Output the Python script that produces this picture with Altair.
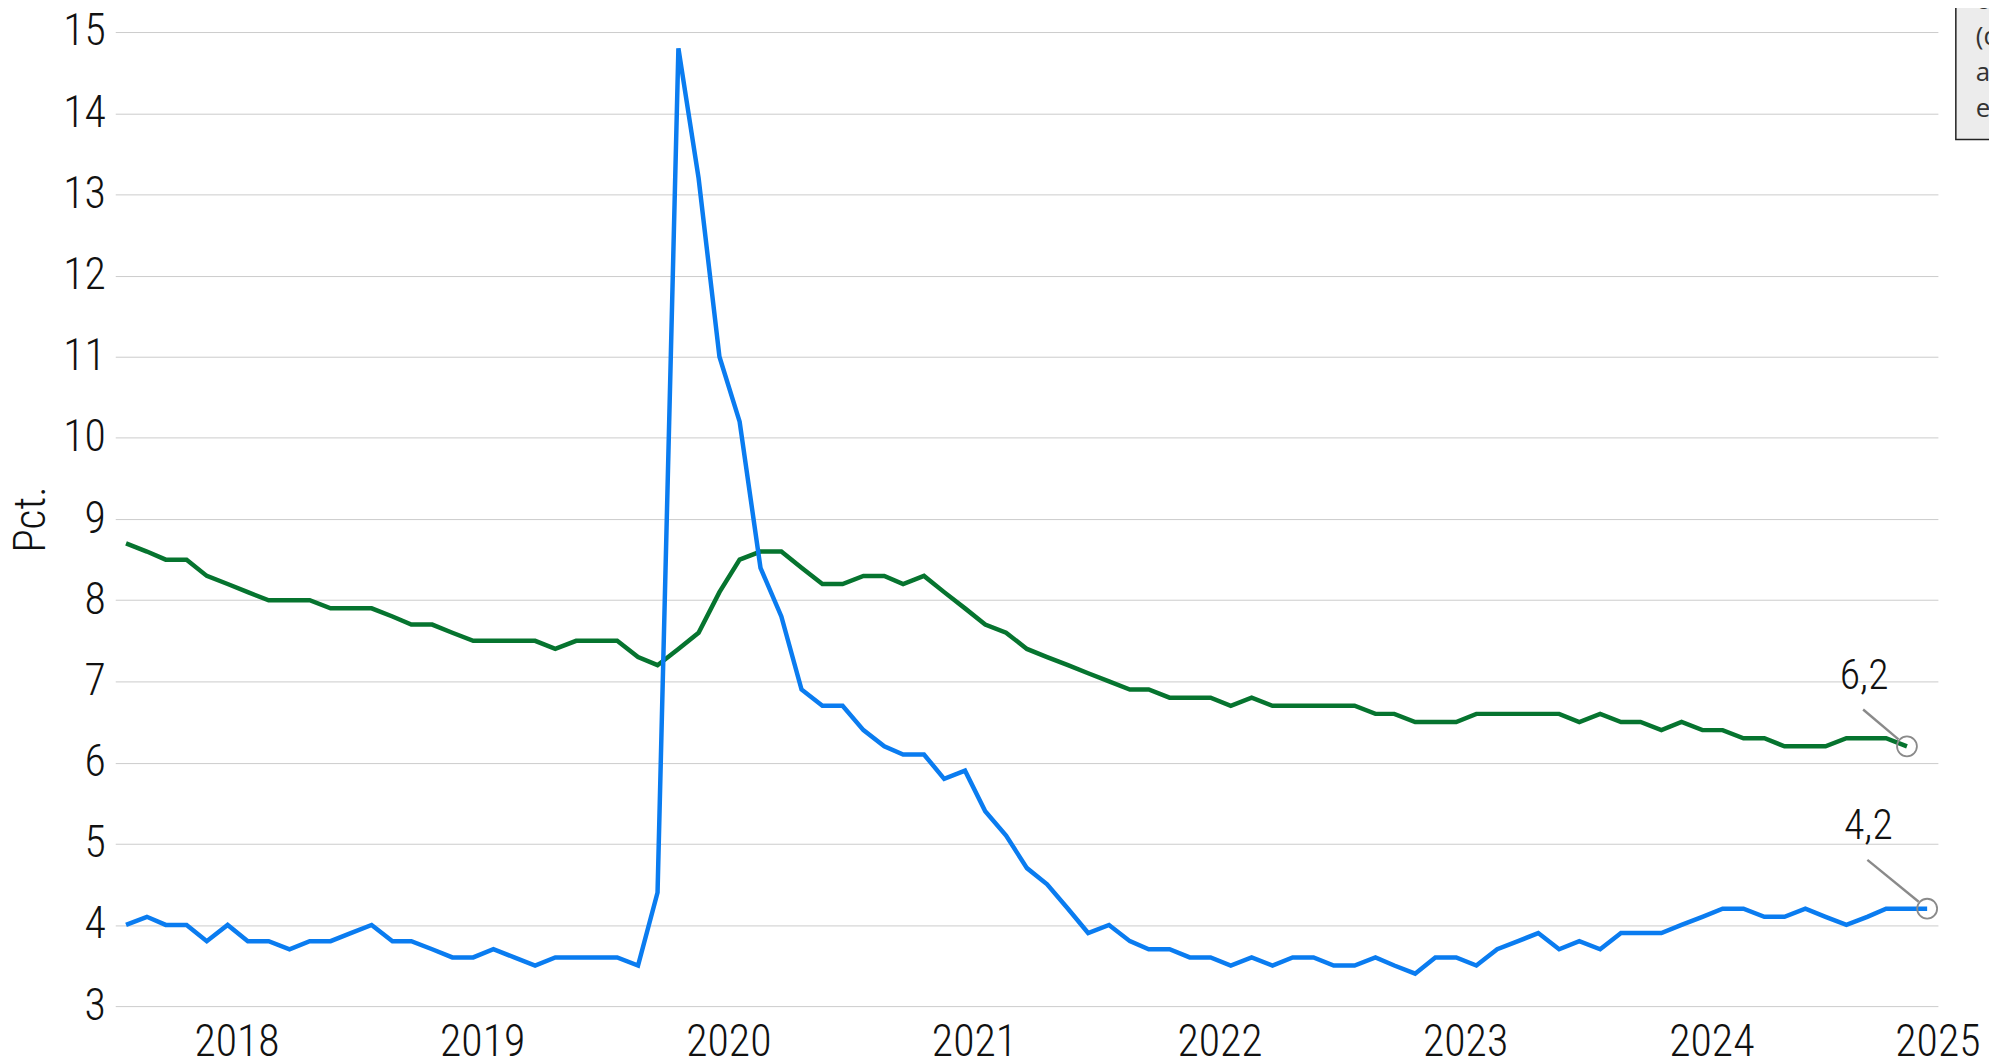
import altair as alt
import pandas as pd

# ---------------- data ----------------
months = pd.date_range("2018-01-01", periods=89, freq="MS")

usa = [
    4.0, 4.1, 4.0, 4.0, 3.8, 4.0, 3.8, 3.8, 3.7, 3.8, 3.8, 3.9,
    4.0, 3.8, 3.8, 3.7, 3.6, 3.6, 3.7, 3.6, 3.5, 3.6, 3.6, 3.6,
    3.6, 3.5, 4.4, 14.8, 13.2, 11.0, 10.2, 8.4, 7.8, 6.9, 6.7, 6.7,
    6.4, 6.2, 6.1, 6.1, 5.8, 5.9, 5.4, 5.1, 4.7, 4.5, 4.2, 3.9,
    4.0, 3.8, 3.7, 3.7, 3.6, 3.6, 3.5, 3.6, 3.5, 3.6, 3.6, 3.5,
    3.5, 3.6, 3.5, 3.4, 3.6, 3.6, 3.5, 3.7, 3.8, 3.9, 3.7, 3.8,
    3.7, 3.9, 3.9, 3.9, 4.0, 4.1, 4.2, 4.2, 4.1, 4.1, 4.2, 4.1,
    4.0, 4.1, 4.2, 4.2, 4.2,
]

euro = [
    8.7, 8.6, 8.5, 8.5, 8.3, 8.2, 8.1, 8.0, 8.0, 8.0, 7.9, 7.9,
    7.9, 7.8, 7.7, 7.7, 7.6, 7.5, 7.5, 7.5, 7.5, 7.4, 7.5, 7.5,
    7.5, 7.3, 7.2, 7.4, 7.6, 8.1, 8.5, 8.6, 8.6, 8.4, 8.2, 8.2,
    8.3, 8.3, 8.2, 8.3, 8.1, 7.9, 7.7, 7.6, 7.4, 7.3, 7.2, 7.1,
    7.0, 6.9, 6.9, 6.8, 6.8, 6.8, 6.7, 6.8, 6.7, 6.7, 6.7, 6.7,
    6.7, 6.6, 6.6, 6.5, 6.5, 6.5, 6.6, 6.6, 6.6, 6.6, 6.6, 6.5,
    6.6, 6.5, 6.5, 6.4, 6.5, 6.4, 6.4, 6.3, 6.3, 6.2, 6.2, 6.2,
    6.3, 6.3, 6.3, 6.2,
]

years = [2018, 2019, 2020, 2021, 2022, 2023, 2024, 2025]
y_ticks = list(range(3, 16))
title_text = "Euroområdet — USA"
box_lines = ["cirka", "(data", "af", "eurostat"]
y_title = "Pct."

BLUE = "#0a7cf0"
GREEN = "#06742f"
GRAY = "#8a8a8a"
FONT = "'Roboto Condensed Light', 'Roboto Condensed', Roboto, sans-serif"

W, H = 1830, 978
dom_start = pd.Timestamp("2017-12-16")
dom_end = pd.Timestamp("2025-05-17")

df_usa = pd.DataFrame({"date": months[: len(usa)], "value": usa})
df_euro = pd.DataFrame({"date": months[: len(euro)], "value": euro})

x_scale = alt.Scale(
    domain=[
        alt.DateTime(year=dom_start.year, month=dom_start.month, date=dom_start.day),
        alt.DateTime(year=dom_end.year, month=dom_end.month, date=dom_end.day),
    ]
)
y_scale = alt.Scale(domain=[3, 15], nice=False, zero=False)

x_enc = alt.X("date:T", scale=x_scale, axis=None)
y_enc = alt.Y(
    "value:Q",
    scale=y_scale,
    axis=alt.Axis(
        values=y_ticks,
        grid=True,
        gridColor="#cccccc",
        gridWidth=1,
        domain=False,
        ticks=False,
        labelFont=FONT,
        labelFontWeight=300,
        labelFontSize=44,
        labelColor="#111111",
        labelPadding=10,
        title=y_title,
        titleFont=FONT,
        titleFontWeight=300,
        titleFontSize=44,
        titleColor="#111111",
        titleAngle=270,
        titleAlign="center",
        titleBaseline="middle",
        titleX=-84,
        titleY=489,
    ),
)

line_euro = alt.Chart(df_euro).mark_line(color=GREEN, strokeWidth=4.5, strokeJoin="miter").encode(
    x=x_enc, y=y_enc
)
line_usa = alt.Chart(df_usa).mark_line(color=BLUE, strokeWidth=4.5, strokeJoin="miter").encode(
    x=x_enc, y=y_enc
)


def fmt(v):
    return f"{v:.1f}".replace(".", ",")


last_euro = df_euro.tail(1).assign(label=lambda d: d["value"].map(fmt))
last_usa = df_usa.tail(1).assign(label=lambda d: d["value"].map(fmt))


def annot(df, lx, ly, sx, sy):
    circ = alt.Chart(df).mark_point(
        shape="circle", filled=False, size=400, color=GRAY, strokeWidth=1.8, opacity=1
    ).encode(x=x_enc, y=y_enc)
    rule = alt.Chart(df).mark_rule(
        color=GRAY, strokeWidth=2.4, xOffset=sx, yOffset=sy, x2Offset=-8.5, y2Offset=-7
    ).encode(x=x_enc, y=y_enc, x2=alt.X2("date:T"), y2=alt.Y2("value:Q"))
    txt = alt.Chart(df).mark_text(
        font=FONT, fontWeight=300, fontSize=42, color="#111111",
        align="center", baseline="alphabetic", dx=lx, dy=ly,
    ).encode(x=x_enc, y=y_enc, text="label:N")
    return [rule, circ, txt]


# x year labels (last one kept inside the plot edge)
df_years = pd.DataFrame(
    {
        "date": [min(pd.Timestamp(f"{y}-06-15"), dom_end) for y in years],
        "label": [str(y) for y in years],
    }
)
year_text = alt.Chart(df_years).mark_text(
    font=FONT, fontWeight=300, fontSize=44, color="#111111",
    align="center", baseline="alphabetic",
).encode(x=x_enc, y=alt.value(1028), text="label:N")

# note box at top right (mostly outside the view)
df_box = pd.DataFrame({"k": [0]})
box = alt.Chart(df_box).mark_rect(
    fill="#ececec", stroke="#222222", strokeWidth=1.5
).encode(x=alt.value(1848), x2=alt.value(2100), y=alt.value(-60), y2=alt.value(108))

box_layers = []
for i, line in enumerate(box_lines):
    df_l = pd.DataFrame({"t": [line]})
    box_layers.append(
        alt.Chart(df_l).mark_text(
            font="'Open Sans', sans-serif", fontSize=26, color="#333333",
            align="left", baseline="alphabetic",
        ).encode(x=alt.value(1868), y=alt.value(-23 + 36 * i), text="t:N")
    )

df_title = pd.DataFrame({"t": [title_text]})
title_mark = alt.Chart(df_title).mark_text(
    font="'Open Sans', sans-serif", fontSize=40, color="#111111", align="center", baseline="alphabetic"
).encode(x=alt.value(765), y=alt.value(-26), text="t:N")

layers = (
    [line_euro, line_usa]
    + annot(last_euro, -43, -58, -44, -37)
    + annot(last_usa, -59, -70, -60, -49)
    + [year_text, box]
    + box_layers
    + [title_mark]
)

chart = (
    alt.layer(*layers)
    .properties(
        width=W,
        height=H,
        autosize=alt.AutoSizeParams(type="none"),
        padding={"left": 107.7, "top": 22, "right": 51.3, "bottom": 56},
        background="white",
    )
    .configure_view(strokeWidth=0, stroke="transparent")
)

chart.save("out.html", embed_options={"renderer": "svg", "actions": False})
